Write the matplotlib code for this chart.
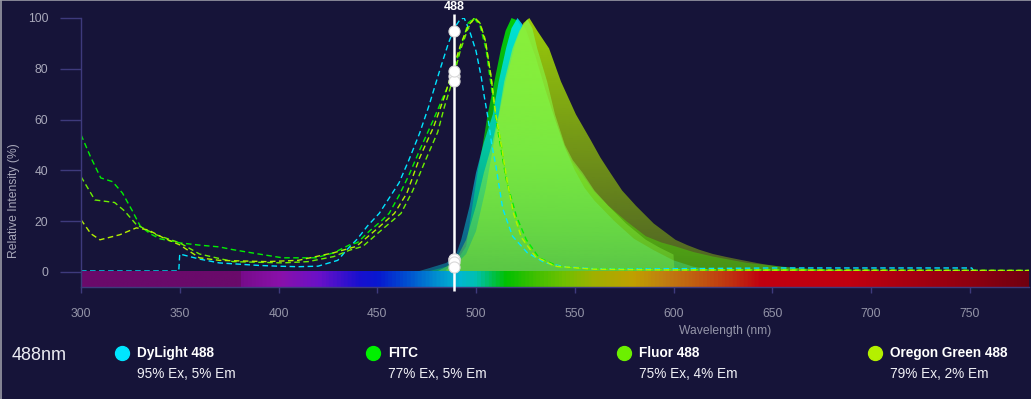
import numpy as np
import matplotlib
matplotlib.use("Agg")
import matplotlib.pyplot as plt
from matplotlib.patches import Polygon
from matplotlib.colors import LinearSegmentedColormap, to_rgb
from matplotlib.lines import Line2D

plt.rcParams['font.family'] = ['Liberation Sans', 'DejaVu Sans']

# ---------------- data ----------------
dyes = ["DyLight 488", "FITC", "Fluor 488", "Oregon Green 488"]
dye_colors = ["#00e5ff", "#00f000", "#6cf000", "#b4f000"]
fill_colors = ["#00e5ff", "#00f000", "#86f040", "#b4f000"]
ex_pct = [95, 77, 75, 79]
em_pct = [5, 5, 4, 2]
laser_nm = 488
laser_pos = 488.8

# excitation spectra
dyl_ex_x = [300, 349.5, 350, 355, 360, 370, 380, 390, 400, 410, 420, 430, 435, 440, 445, 451, 456, 461,
            466, 471.5, 476, 481.7, 486, 489, 492, 494, 496.7, 500, 502.6, 504.2, 506, 508, 510, 513.5,
            518.5, 526, 535, 545, 560, 600, 650, 700, 751, 752]
dyl_ex_y = [0.3, 0.3, 7, 6, 5, 3.5, 3, 2.5, 2.2, 2, 2.2, 4.5, 9, 13, 18, 23, 29, 35,
            44, 54.7, 65, 79.5, 90, 96, 99.5, 100, 95, 87, 77, 69, 61, 50, 42, 25,
            14, 7.5, 3.5, 2, 1.2, 1.2, 1.5, 1.5, 1.5, 0.3]

fitc_ex_x = [300, 305, 310, 316, 321, 326, 330, 335, 340, 350, 360, 370, 377, 390, 402, 419, 428, 436,
             440, 446, 452, 456, 461, 466, 471.5, 478.5, 484, 488, 492, 496, 499, 502, 505, 507, 510.4,
             515.4, 520.5, 525.5, 532, 542, 560, 600, 700, 780]
fitc_ex_y = [54, 45, 37, 35.5, 31, 24, 18, 15, 13, 11.4, 10.5, 9.8, 8.7, 7, 5.5, 5.5, 7.5, 10.6,
             11.5, 16, 20, 23, 30, 38, 48, 60, 70, 77, 88, 98, 100, 97, 88, 77, 58.6,
             36, 21.8, 12.6, 5.5, 2, 1, 0.8, 0.5, 0.5]

fluor_ex_x = [300, 307, 317, 322, 328, 338, 350, 360, 377, 402, 415, 428, 436, 442.7, 450, 462, 468,
              475, 480.6, 484, 488, 492, 496, 499, 502, 504.5, 507.6, 509.5, 512.7, 515.2, 518.6,
              522.8, 530.4, 540.5, 560, 600, 780]
fluor_ex_y = [37.5, 28.3, 27.3, 24, 18.6, 14.6, 11.4, 7, 4, 3.5, 4, 6, 8.5, 10, 15, 23, 32,
              45, 55, 65, 75, 87, 96, 100, 98, 92, 77, 64, 51, 37.5, 24.4,
              14, 6, 2, 1, 0.8, 0.5]

oreg_ex_x = [300, 305, 309.6, 319.7, 328, 334, 341.6, 350, 360, 370, 394, 410, 428, 439.4, 450, 458.7,
             465, 471.5, 478.5, 484, 488, 492, 496, 499.5, 502, 505, 507.6, 510, 513, 516, 519, 523,
             530, 540, 560, 600, 780]
oreg_ex_y = [20.5, 15, 12.6, 14.6, 17.3, 16.5, 13.4, 10.6, 5.5, 4.5, 4, 4.5, 7.5, 10, 17, 23,
             31, 45, 57, 69, 79, 89, 97, 100, 98, 90, 77, 62, 49, 35, 23, 13.5,
             6, 2.2, 1, 0.7, 0.5]

# emission spectra
dyl_em_x = [470, 476.6, 485, 490, 492.5, 496.7, 500, 504, 508.5, 511.5, 515.2, 518, 521, 525, 530,
            535, 540, 545, 550, 555, 560, 570, 580, 590, 600, 610, 625]
dyl_em_y = [0, 1.5, 3.5, 7, 12.6, 25.7, 39, 51, 62, 75, 88, 96, 100, 96, 85,
            72, 60, 49, 40, 33, 28, 20, 13, 8.5, 4.5, 2, 0]

fitc_em_x = [475, 480, 485, 490, 495, 499, 501, 503.4, 505.9, 509.3, 512.7, 515, 518, 521, 525,
             530, 535, 540, 545, 549, 554, 560, 567, 576, 586, 594, 601, 610, 620, 637, 662, 680, 700]
fitc_em_y = [0, 1, 2, 4, 10, 30, 40, 50, 62, 75, 88, 95, 100, 99, 94,
             85, 72, 60, 49, 43, 38, 31.5, 26, 20, 14, 11.5, 10, 7.8, 6, 3.5, 1.5, 0.8, 0]

fluor_em_x = [480, 485, 490, 495, 500, 504, 508, 511.5, 514.3, 518.5, 522, 526, 528.5, 531, 536, 540,
              545, 549, 554, 560, 567, 576, 586, 593, 600, 600.5]
fluor_em_y = [0, 2, 5, 12.6, 26, 39, 50, 62, 75, 88, 95, 99.5, 96, 88, 75, 62,
              50, 44, 39, 32, 26, 19, 12.6, 9.5, 6.8, 0]

oreg_em_x = [485, 490, 495, 500, 505, 510, 515, 520, 524, 527, 531, 537, 543, 550.6, 558, 563, 568,
             574, 581, 590, 601, 607, 613, 620, 627, 634, 644, 654, 670, 690, 720, 780]
oreg_em_y = [1, 3, 7, 16, 33, 55, 75, 90, 98, 100, 95, 88, 75, 62, 52, 45, 39,
             32, 26, 19, 12.6, 10.5, 8.7, 7, 5.8, 4.7, 3.2, 2, 1, 0.6, 0.3, 0.1]

ex_x = [dyl_ex_x, fitc_ex_x, fluor_ex_x, oreg_ex_x]
ex_y = [dyl_ex_y, fitc_ex_y, fluor_ex_y, oreg_ex_y]
em_x = [dyl_em_x, fitc_em_x, fluor_em_x, oreg_em_x]
em_y = [dyl_em_y, fitc_em_y, fluor_em_y, oreg_em_y]
em_order = [1, 0, 3, 2]   # drawing order of emission fills (back to front)

xticks = [300, 350, 400, 450, 500, 550, 600, 650, 700, 750]
yticks = [0, 20, 40, 60, 80, 100]

# visible spectrum bar colour stops
bar_nm = [300, 379, 381, 400, 420, 440, 450, 465, 480, 492, 500, 508, 515, 530, 545, 560, 580, 595,
          610, 630, 645, 690, 720, 750, 780]
bar_col = ["#6a0a6a", "#6a0a6a", "#780c8c", "#8a10aa", "#6a10c8", "#1a10d0", "#0818d0", "#0050d0",
           "#0090d0", "#00b8d0", "#00c0b0", "#00c050", "#00c000", "#40c000", "#70c000", "#a0b000",
           "#c0a000", "#c08010", "#c06010", "#c03010", "#c00010", "#c00010", "#a80010", "#900010",
           "#700010"]

# ---------------- style ----------------
BG = "#161439"
AX = "#3e3a7c"
TXT = "#a8a8ba"

fig = plt.figure(figsize=(10.31, 3.99), dpi=100, facecolor=BG)
ax = fig.add_axes([81 / 1031, 1 - 287 / 399, (1029 - 81) / 1031, (287 - 18) / 399])
ax.set_facecolor(BG)
XMIN, XMAX, YMIN, YMAX = 300, 780, -6, 100

# emission fills with vertical alpha gradient
for k, i in enumerate(em_order):
    xs = list(em_x[i])
    ys = list(em_y[i])
    verts = [(xs[0], 0)] + list(zip(xs, ys)) + [(xs[-1], 0)]
    poly = Polygon(verts, closed=True, facecolor="none", edgecolor="none")
    ax.add_patch(poly)
    n = 256
    img = np.zeros((n, 1, 4))
    img[..., :3] = to_rgb(fill_colors[i])
    img[..., 3] = np.linspace(0.35, 0.84, n)[:, None]
    im = ax.imshow(img, extent=(XMIN, XMAX, 0, 100), origin="lower", aspect="auto",
                   interpolation="bilinear", zorder=2 + k * 0.1)
    im.set_clip_path(poly)

# excitation dashed lines
for i in range(4):
    ax.plot(ex_x[i], ex_y[i], color=dye_colors[i], lw=1.0, dashes=(4, 2.5), zorder=4)

# spectrum bar
cmap = LinearSegmentedColormap.from_list(
    "vis", [((v - bar_nm[0]) / (bar_nm[-1] - bar_nm[0]), c) for v, c in zip(bar_nm, bar_col)])
grad = np.linspace(0, 1, 960)[None, :]
ax.imshow(grad, cmap=cmap, extent=(XMIN, XMAX, YMIN, 0), aspect="auto", zorder=4.5,
          interpolation="bilinear")

# laser line
ax.plot([laser_pos, laser_pos], [-7.4, 101.5], color="white", lw=1.8, zorder=6, clip_on=False,
        solid_capstyle="butt")
ax.text(laser_pos, 104.3, str(laser_nm), color="white", fontsize=9, fontweight="bold",
        ha="center", va="center", zorder=7, clip_on=False)
ax.plot([laser_pos] * 4, ex_pct, "o", ms=8, mfc="white", mec="#d8d8d8", mew=0.8, zorder=8,
        clip_on=False)
ax.plot([laser_pos] * 4, em_pct, "o", ms=8, mfc="white", mec="#d8d8d8", mew=0.8, zorder=8,
        clip_on=False)

ax.set_xlim(XMIN, XMAX)
ax.set_ylim(YMIN, YMAX)

for s in ["top", "right"]:
    ax.spines[s].set_visible(False)
for s in ["left", "bottom"]:
    ax.spines[s].set_color(AX)
    ax.spines[s].set_linewidth(1.0)
    ax.spines[s].set_zorder(5)
ax.set_xticks(xticks)
ax.set_yticks(yticks)
ax.tick_params(axis="y", direction="out", length=15, width=1, color=AX, pad=8.6,
               labelsize=8.7, labelcolor=TXT)
ax.tick_params(axis="x", direction="out", length=4.3, width=1, color=AX, pad=10.5,
               labelsize=8.7, labelcolor="#9494a8")

fig.text(725 / 1031, 1 - 331 / 399, "Wavelength (nm)", color="#9494a8", fontsize=8.7,
         ha="center", va="center")
fig.text(14 / 1031, 1 - 201 / 399, "Relative Intensity (%)", color=TXT, fontsize=8.7,
         rotation=90, ha="center", va="center")

# legend row
fig.text(12 / 1031, 1 - 356 / 399, f"{laser_nm}nm", color="#ececf4", fontsize=13,
         ha="left", va="center")
leg_x = [122, 373, 624, 875]
for i in range(4):
    fig.add_artist(Line2D([leg_x[i] / 1031], [1 - 353 / 399], marker="o", ms=10,
                          mfc=dye_colors[i], mec=dye_colors[i], ls="none"))
    fig.text((leg_x[i] + 15) / 1031, 1 - 353 / 399, dyes[i], color="white", fontsize=9.8,
             fontweight="bold", ha="left", va="center")
    fig.text((leg_x[i] + 15) / 1031, 1 - 374 / 399, f"{ex_pct[i]}% Ex, {em_pct[i]}% Em",
             color="#f0f0f6", fontsize=9.8, ha="left", va="center")

# thin frame lines at top and left edge
fig.add_artist(Line2D([0, 1], [0.999, 0.999], color="#9a9aa6", lw=1.2))
fig.add_artist(Line2D([0.0007, 0.0007], [0, 1], color="#9a9aa6", lw=1.2))

fig.savefig("out.png", dpi=100, facecolor=BG)
